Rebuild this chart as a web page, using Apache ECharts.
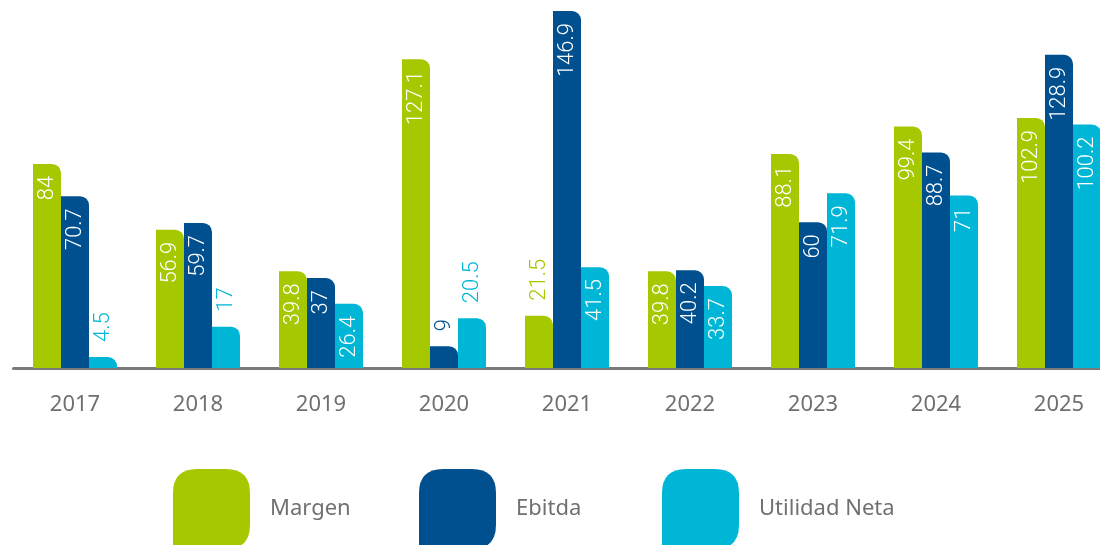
<!DOCTYPE html>
<html>
<head>
<meta charset="utf-8">
<script src="https://cdn.jsdelivr.net/npm/echarts@6/dist/echarts.min.js"></script>
<style>
  html, body { margin: 0; padding: 0; background: #ffffff; }
  #chart { width: 1100px; height: 545px; }
</style>
</head>
<body>
<div id="chart"></div>
<script>
// Años y series (millones)
const years = ['2017', '2018', '2019', '2020', '2021', '2022', '2023', '2024', '2025'];
const margen = [84, 56.9, 39.8, 127.1, 21.5, 39.8, 88.1, 99.4, 102.9];
const ebitda = [70.7, 59.7, 37, 9, 146.9, 40.2, 60, 88.7, 128.9];
const utilidadNeta = [4.5, 17, 26.4, 20.5, 41.5, 33.7, 71.9, 71, 100.2];

const seriesNames = ['Margen', 'Ebitda', 'Utilidad Neta'];
const colors = ['#a6c800', '#00508f', '#00b6d6'];
const legendLefts = [173, 419, 662];

const labelFont = 'Roboto';
const textGray = '#707070';

// Short bars carry their label above the bar, in the bar's own colour
function buildData(values, color) {
  return values.map(function (v) {
    if (v < 25) {
      return {
        value: v,
        label: {
          position: 'top',
          align: 'left',
          color: color,
          distance: 15
        }
      };
    }
    return v;
  });
}

// Legend swatch: rounded on all corners except the bottom-left one
const swatch = 'path://M0 80 L0 24 Q0 0 24 0 L53 0 Q77 0 77 24 L77 56 Q77 80 53 80 Z';

const chart = echarts.init(document.getElementById('chart'), null, { renderer: 'canvas' });

const series = [margen, ebitda, utilidadNeta].map(function (vals, i) {
  return {
    name: seriesNames[i],
    type: 'bar',
    barWidth: 28,
    barGap: '0%',
    itemStyle: { color: colors[i], borderRadius: [0, 9, 0, 0] },
    label: {
      show: true,
      position: 'insideTop',
      rotate: 90,
      align: 'right',
      verticalAlign: 'middle',
      distance: 12,
      color: '#ffffff',
      fontFamily: labelFont,
      fontWeight: 300,
      fontSize: 22
    },
    data: buildData(vals, colors[i])
  };
});

// One legend block per series so each sits at its own spot
const legends = seriesNames.map(function (name, i) {
  return {
    left: legendLefts[i],
    top: 469,
    padding: 0,
    itemWidth: 77,
    itemHeight: 80,
    icon: swatch,
    data: [name],
    textStyle: {
      color: textGray,
      fontFamily: 'Noto Sans',
      fontSize: 22,
      padding: [0, 0, 10, 15]
    }
  };
});

chart.setOption({
  animation: false,
  backgroundColor: '#ffffff',
  // the plot runs a little past the right edge, so the last group is cut off
  grid: {
    left: 13.5, width: 1107, top: 3.5, bottom: 177,
    containLabel: false, outerBoundsMode: 'none'
  },
  legend: legends,
  xAxis: {
    type: 'category',
    data: years,
    axisLine: { show: true, lineStyle: { color: '#7a7a7a', width: 3 } },
    axisTick: { show: false },
    axisLabel: {
      color: textGray,
      fontFamily: 'Noto Sans',
      fontSize: 22,
      margin: 26
    }
  },
  yAxis: {
    type: 'value',
    min: 0,
    max: 150,
    show: false,
    splitLine: { show: false }
  },
  series: series
});
</script>
</body>
</html>
